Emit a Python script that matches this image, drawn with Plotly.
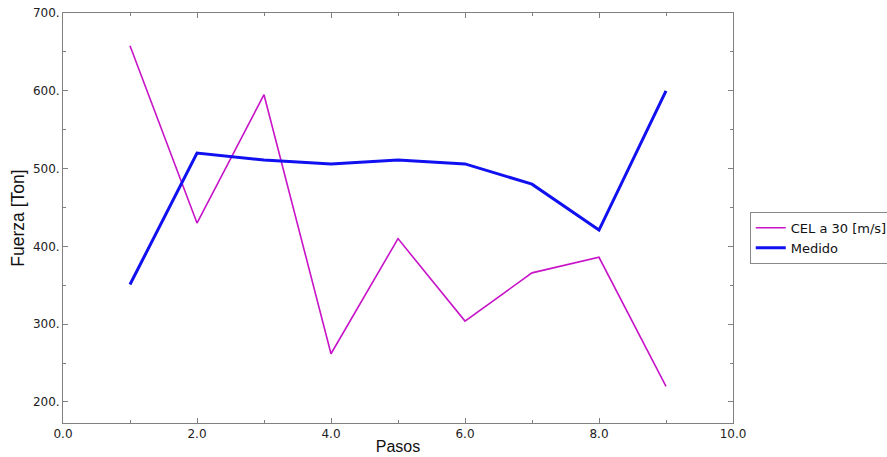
import plotly.graph_objects as go

# Force per step
pasos = [1, 2, 3, 4, 5, 6, 7, 8, 9]
cel_30 = [658, 430, 595, 262, 410, 304, 366, 386, 220]
medido = [351, 520, 511, 506, 511, 506, 480, 421, 600]

x_tickvals = [0, 2, 4, 6, 8, 10]
x_ticktext = ["0.0", "2.0", "4.0", "6.0", "8.0", "10.0"]
y_tickvals = [200, 300, 400, 500, 600, 700]
y_ticktext = ["200.", "300.", "400.", "500.", "600.", "700."]

fig = go.Figure()
fig.add_trace(go.Scatter(x=pasos, y=cel_30, mode="lines", name="CEL a 30 [m/s]",
                         line=dict(color="#c814c8", width=1.6)))
fig.add_trace(go.Scatter(x=pasos, y=medido, mode="lines", name="Medido",
                         line=dict(color="#1010f0", width=3)))

axis_common = dict(
    showline=True, linecolor="#808080", linewidth=1, mirror="ticks",
    ticks="inside", ticklen=5, tickcolor="#808080", tickwidth=1,
    showgrid=False, zeroline=False, automargin=False,
    tickfont=dict(family="DejaVu Sans", size=12, color="#222"),
)

fig.update_xaxes(range=[0, 10], tickvals=x_tickvals, ticktext=x_ticktext,
                 minor=dict(ticks="inside", dtick=1, tick0=0, ticklen=3, tickcolor="#808080"),
                 title=dict(text="Pasos", font=dict(family="Liberation Sans", size=16, color="#111"),
                            standoff=0),
                 **axis_common)
fig.update_yaxes(range=[173, 700], tickvals=y_tickvals, ticktext=y_ticktext,
                 minor=dict(ticks="inside", dtick=50, tick0=0, ticklen=3, tickcolor="#808080"),
                 title=dict(text="Fuerza [Ton]", font=dict(family="Liberation Sans", size=17.5, color="#111"),
                            standoff=3),
                 **axis_common)

fig.update_layout(
    width=887, height=457,
    margin=dict(l=63, r=154, t=13, b=34, autoexpand=False),
    paper_bgcolor="white", plot_bgcolor="white",
    legend=dict(x=1.025, y=0.515, xanchor="left", yanchor="top",
                bordercolor="#888", borderwidth=1,
                font=dict(family="DejaVu Sans", size=13, color="#111"),
                itemwidth=30, tracegroupgap=0),
    showlegend=True,
)

fig.write_html("out.html")
